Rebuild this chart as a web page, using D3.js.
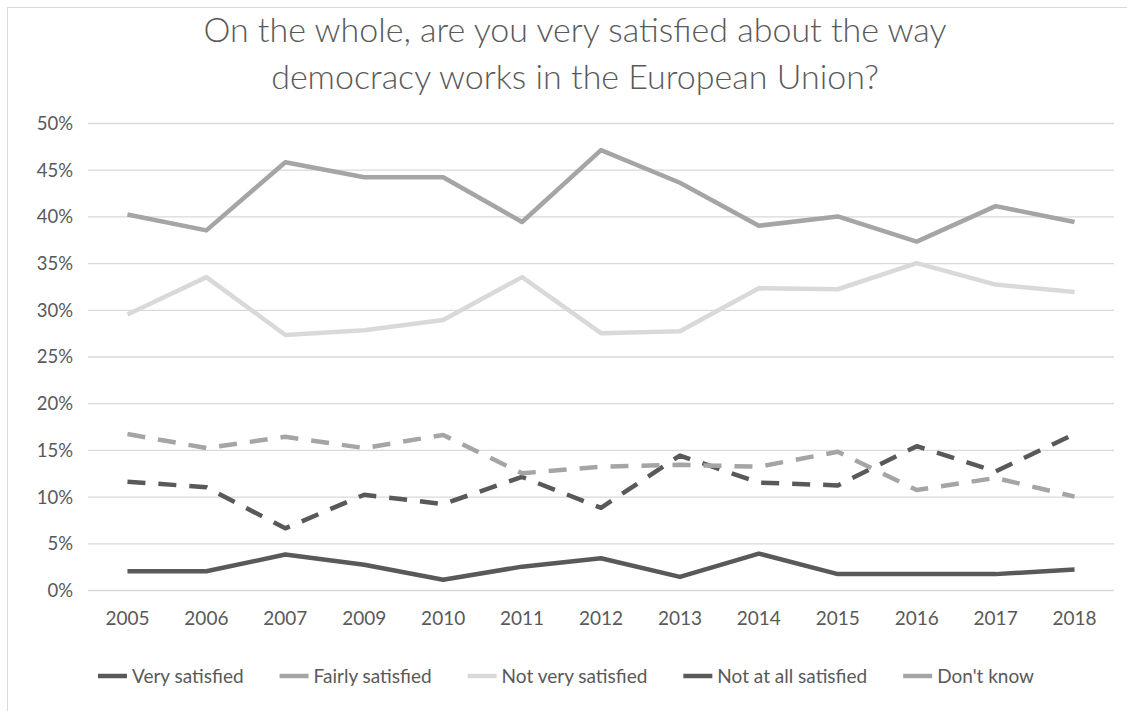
<!DOCTYPE html>
<html>
<head>
<meta charset="utf-8">
<script src="https://cdn.jsdelivr.net/npm/d3@7"></script>
<style>
  body{margin:0;background:#fff;}
  text{font-family:Lato,"Open Sans",sans-serif;}
</style>
</head>
<body>
<div id="chart"></div>
<script>
const years=["2005","2006","2007","2009","2010","2011","2012","2013","2014","2015","2016","2017","2018"];
const verySatisfied=[2.0,2.0,3.8,2.7,1.1,2.5,3.4,1.4,3.9,1.7,1.7,1.7,2.2];
const fairlySatisfied=[40.2,38.5,45.8,44.2,44.2,39.4,47.1,43.6,39.0,40.0,37.3,41.1,39.4];
const notVerySatisfied=[29.5,33.5,27.3,27.8,28.9,33.5,27.5,27.7,32.3,32.2,35.0,32.7,31.9];
const notAtAllSatisfied=[11.6,11.0,6.6,10.2,9.2,12.1,8.8,14.4,11.5,11.2,15.4,12.7,16.7];
const dontKnow=[16.7,15.2,16.4,15.2,16.6,12.5,13.2,13.4,13.2,14.8,10.7,12.0,10.0];
const seriesNames=["Very satisfied","Fairly satisfied","Not very satisfied","Not at all satisfied","Don't know"];
const yTicks=[0,5,10,15,20,25,30,35,40,45,50];
const titleLines=["On the whole, are you very satisfied about the way","democracy works in the European Union?"];

const width=1127,height=711;
const margin={top:123,right:13,bottom:121,left:88};

const series=[
  {name:seriesNames[0],values:verySatisfied,color:"#595959",dash:null},
  {name:seriesNames[1],values:fairlySatisfied,color:"#a5a5a5",dash:null},
  {name:seriesNames[2],values:notVerySatisfied,color:"#d9d9d9",dash:null},
  {name:seriesNames[3],values:notAtAllSatisfied,color:"#595959",dash:"18,13"},
  {name:seriesNames[4],values:dontKnow,color:"#a5a5a5",dash:"18,13"}
];

const svg=d3.select("#chart").append("svg")
  .attr("width",width)
  .attr("height",height);

// chart border
svg.append("rect")
  .attr("x",7.5).attr("y",7.5)
  .attr("width",width).attr("height",height)
  .attr("fill","none")
  .attr("stroke","#d9d9d9");

const xScale=d3.scaleBand()
  .domain(years)
  .range([margin.left,width-margin.right]);
const yScale=d3.scaleLinear()
  .domain([0,50])
  .range([height-margin.bottom,margin.top]);

// title
svg.append("g")
  .selectAll("text")
  .data(titleLines)
  .enter()
  .append("text")
  .attr("x",575)
  .attr("y",(d,i)=>42+i*47)
  .attr("text-anchor","middle")
  .attr("font-size",34)
  .attr("font-weight",300)
  .attr("fill","#595959")
  .text(d=>d);

// gridlines + y labels
const yAxis=d3.axisLeft(yScale)
  .tickValues(yTicks)
  .tickSize(-(width-margin.left-margin.right))
  .tickFormat(d=>d+"%");
const gy=svg.append("g")
  .attr("transform","translate("+margin.left+",0)")
  .call(yAxis);
gy.select(".domain").remove();
gy.selectAll("line").attr("stroke","#d9d9d9").attr("stroke-width",1.3);
gy.selectAll("text")
  .attr("x",-15)
  .attr("dy","0.35em")
  .attr("fill","#595959")
  .attr("font-size",18.5);

// x labels
const xAxis=d3.axisBottom(xScale).tickSize(0);
const gx=svg.append("g")
  .attr("transform","translate(0,"+(height-margin.bottom)+")")
  .call(xAxis);
gx.select(".domain").remove();
gx.selectAll("text")
  .attr("y",22)
  .attr("dy","0.71em")
  .attr("fill","#595959")
  .attr("font-size",19);

const line=d3.line()
  .x((d,i)=>xScale(years[i])+xScale.bandwidth()/2)
  .y(d=>yScale(d));

svg.append("g")
  .selectAll("path")
  .data(series)
  .enter()
  .append("path")
  .attr("d",d=>line(d.values))
  .attr("fill","none")
  .attr("stroke",d=>d.color)
  .attr("stroke-width",4.5)
  .attr("stroke-linejoin","round")
  .attr("stroke-dasharray",d=>d.dash);

// legend
const legend=svg.append("g").attr("transform","translate(0,676)");
const items=legend.selectAll("g")
  .data(series)
  .enter()
  .append("g");
items.append("line")
  .attr("x1",0).attr("x2",29)
  .attr("y1",0).attr("y2",0)
  .attr("stroke",d=>d.color)
  .attr("stroke-width",4.5);
items.append("text")
  .attr("x",34)
  .attr("dy","0.35em")
  .attr("font-size",19)
  .attr("fill","#595959")
  .text(d=>d.name);
let offset=0;
const widths=[];
items.each(function(){
  widths.push(34+d3.select(this).select("text").node().getComputedTextLength());
});
const gap=36;
const total=d3.sum(widths)+gap*(widths.length-1);
offset=566-total/2;
items.attr("transform",(d,i)=>{
  const t="translate("+offset+",0)";
  offset+=widths[i]+gap;
  return t;
});
</script>
</body>
</html>
